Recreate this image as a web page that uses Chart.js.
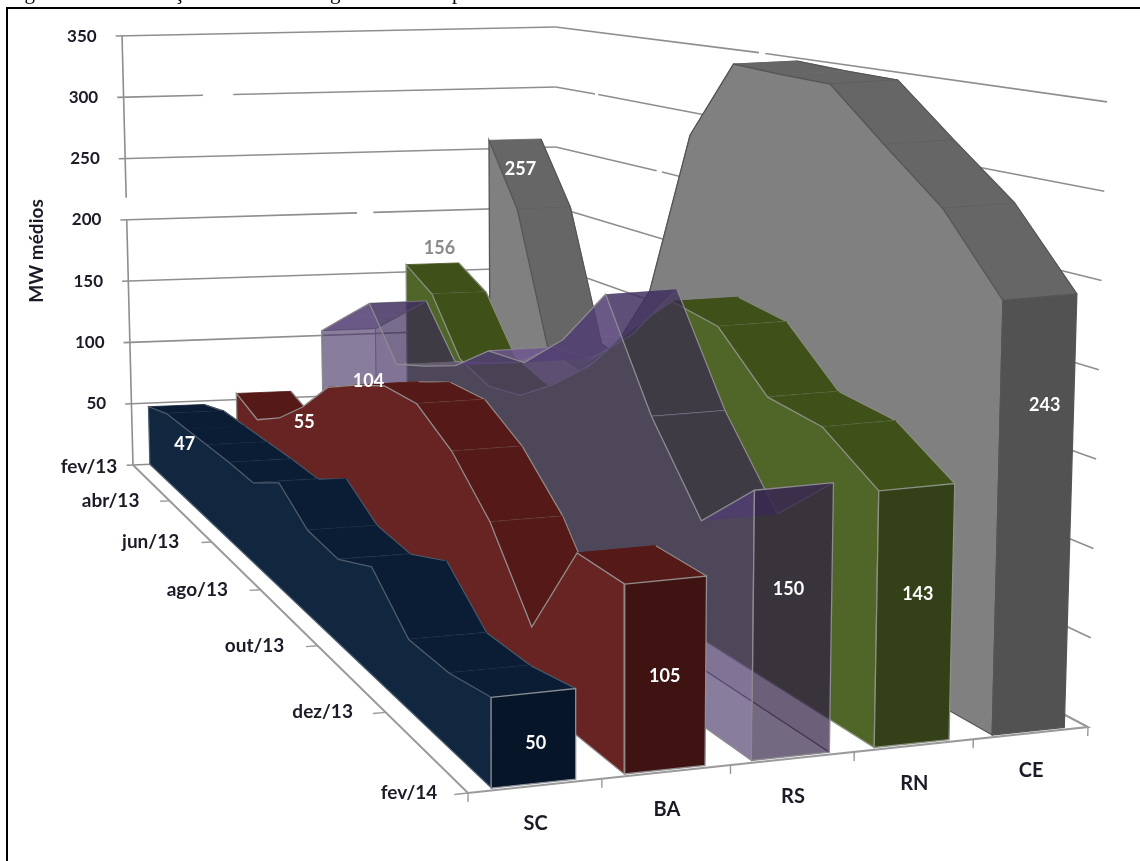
<!DOCTYPE html>
<html>
<head>
<meta charset="utf-8">
<title>MW médios</title>
<script src="https://cdn.jsdelivr.net/npm/chart.js@4"></script>
<style>
    html, body { margin: 0; padding: 0; background: #fff; }
    canvas { display: block; }
</style>
</head>
<body>
<canvas id="areaChart" width="1140" height="861"></canvas>
<script>
// values by month, fev/13 to fev/14
var months = ["fev/13", "mar/13", "abr/13", "mai/13", "jun/13", "jul/13", "ago/13", "set/13", "out/13", "nov/13", "dez/13", "jan/14", "fev/14"];
var states = ["SC", "BA", "RS", "RN", "CE"];
var valuesSC = [47, 54, 55, 56, 57, 57, 72, 56, 54, 67, 42, 43, 50];
var valuesBA = [55, 46, 60, 81, 108, 122, 134, 135, 118, 89, 43, 105, 105];
var valuesRS = [104, 125, 146, 110, 120, 132, 154, 158, 185, 225, 163, 117, 150];
var valuesRN = [156, 141, 100, 90, 95, 115, 140, 175, 205, 200, 169, 165, 143];
var valuesCE = [257, 207, 107, 100, 125, 178, 296, 350, 348, 347, 316, 286, 243];
var yTicks = [0, 50, 100, 150, 200, 250, 300, 350];

// months where the top band shows a cross line
var breaksSC = [1, 3, 4, 5, 7, 8, 10, 11];
var breaksBA = [1, 7, 8, 9];
var breaksRS = [2, 6, 10];
var breaksRN = [1, 9, 10, 11];
var breaksCE = [1, 9, 10, 11];

// floor of the 3d view in canvas pixels, pixels per 50 at its corners,
// and the vanishing point of the verticals
var floorQuad = [[133, 465], [556, 447], [1088, 727], [468, 793]];
var cornerScale = [61.3, 60, 89.3, 91];
var GROUPS = 5, STEPS = 12, GROUP_WARP = 0.026;
var VANISH_X = 569, LEAN = 5.86e-5;
var BAND_LEFT = 0.19, BAND_RIGHT = 0.82, FRONT = 11.95;

function quadMap(q) {
    var dx1 = q[1][0] - q[2][0], dx2 = q[3][0] - q[2][0], sx = q[0][0] - q[1][0] + q[2][0] - q[3][0];
    var dy1 = q[1][1] - q[2][1], dy2 = q[3][1] - q[2][1], sy = q[0][1] - q[1][1] + q[2][1] - q[3][1];
    var den = dx1 * dy2 - dx2 * dy1;
    var g = (sx * dy2 - dx2 * sy) / den;
    var h = (dx1 * sy - sx * dy1) / den;
    return function (s, t) {
        var w = g * s + h * t + 1;
        return [
            ((q[1][0] - q[0][0] + g * q[1][0]) * s + (q[3][0] - q[0][0] + h * q[3][0]) * t + q[0][0]) / w,
            ((q[1][1] - q[0][1] + g * q[1][1]) * s + (q[3][1] - q[0][1] + h * q[3][1]) * t + q[0][1]) / w
        ];
    };
}

var floorMap = quadMap(floorQuad);

// distance grows linearly in depth, so the scale is read as 1/depth
function unitHeight(s, t) {
    var back = (1 - s) / cornerScale[0] + s / cornerScale[1];
    var front = (1 - s) / cornerScale[3] + s / cornerScale[2];
    return 1 / ((1 - t) * back + t * front) / 50;
}

function project(group, month, value) {
    var s = group / GROUPS;
    s = s - GROUP_WARP * s * (1 - s);
    var t = month / STEPS;
    var a = floorMap(s, t);
    var height = unitHeight(s, t) * value;
    return { x: a[0] + (a[0] - VANISH_X) * LEAN * height, y: a[1] - height };
}

var datasets = [];

function addShape(points, fillColor, strokeColor, strokeWidth) {
    var pts = points.slice();
    if (strokeColor) pts.push(points[0]);
    datasets.push({
        data: pts,
        fill: fillColor ? 'shape' : false,
        backgroundColor: fillColor || 'transparent',
        borderColor: strokeColor || 'transparent',
        borderWidth: strokeColor ? (strokeWidth || 1.3) : 0,
        pointRadius: 0,
        tension: 0,
        order: -datasets.length
    });
}

function addLine(points, color, width) {
    datasets.push({
        data: points,
        fill: false,
        borderColor: color,
        borderWidth: width || 1.3,
        pointRadius: 0,
        tension: 0,
        order: -datasets.length
    });
}

// gridlines on the two walls, with the breaks they have in print
var gapsBack = { 300: [0.88, 1.22], 200: [2.62, 2.81] };
var gapsSide = { 350: [5.75, 5.9], 300: [1.3, 1.4], 250: [3.15, 3.3] };
var gridColor = '#8e8e8e';

function drawWalls() {
    yTicks.forEach(function (v) {
        var gap = gapsBack[v];
        if (gap) {
            addLine([project(-0.07, 0, v), project(gap[0], 0, v)], gridColor, 1.6);
            addLine([project(gap[1], 0, v), project(GROUPS, 0, v)], gridColor, 1.6);
        } else {
            addLine([project(-0.07, 0, v), project(GROUPS, 0, v)], gridColor, 1.6);
        }
        gap = gapsSide[v];
        if (gap) {
            addLine([project(GROUPS, 0, v), project(GROUPS, gap[0], v)], gridColor, 1.6);
            addLine([project(GROUPS, gap[1], v), project(GROUPS, STEPS, v)], gridColor, 1.6);
        } else {
            addLine([project(GROUPS, 0, v), project(GROUPS, STEPS, v)], gridColor, 1.6);
        }
    });
    addLine([project(0, 0, 350), project(0, 0, 218)], gridColor, 1.6);
    addLine([project(0, 0, 200), project(0, 0, 0)], gridColor, 1.6);

    // floor edges and their ticks
    addLine([project(0, 0, 0), project(0, STEPS, 0), project(GROUPS, STEPS, 0), project(GROUPS, 0, 0)], '#9a9a9a', 2);
    for (var j = 2; j <= STEPS; j += 2) {
        addLine([project(0, j, 0), project(-0.1, j, 0)], '#9a9a9a', 1.4);
    }
    for (var i = 0; i <= GROUPS; i++) {
        addLine([project(i, STEPS, 0), project(i, STEPS, -5)], '#9a9a9a', 1.4);
    }
}

function drawSeries(index, values, breaks, style) {
    var left = index + BAND_LEFT, right = index + BAND_RIGHT;

    function month(j) { return j === STEPS ? FRONT : j; }

    // faint far side, only seen through the translucent series
    if (style.far) {
        var far = [];
        values.forEach(function (v, j) { far.push(project(right, month(j), v)); });
        far.push(project(right, FRONT, 0), project(right, 0, 0));
        addShape(far, style.far, null);
        addLine([project(right, 0, 0), project(right, FRONT, 0)], '#6a6078', 1.2);
        addShape([project(left, 0, values[0]), project(right, 0, values[0]), project(right, 0, 0), project(left, 0, 0)], null, style.edge, 1);
    }

    // top band, back to front, each piece covers the lines behind it
    for (var j = 0; j < STEPS; j++) {
        var color = style.top;
        if (style.topRising && values[j + 1] > values[j]) color = style.topRising;
        addShape([
            project(left, month(j), values[j]),
            project(right, month(j), values[j]),
            project(right, month(j + 1), values[j + 1]),
            project(left, month(j + 1), values[j + 1])
        ], color, style.far ? null : color, 0.8);
        addLine([project(right, month(j), values[j]), project(right, month(j + 1), values[j + 1])], style.edge, 1.2);
        if (breaks.indexOf(j + 1) >= 0) {
            addLine([project(left, j + 1, values[j + 1]), project(right, j + 1, values[j + 1])], style.edge, 1.2);
        }
    }

    // side wall
    var side = [project(left, 0, 0)];
    values.forEach(function (v, j) { side.push(project(left, month(j), v)); });
    side.push(project(left, FRONT, 0));
    addShape(side, style.side, style.edge, 1.3);

    // front wall
    var last = values[STEPS];
    addShape([
        project(left, FRONT, last), project(right, FRONT, last),
        project(right, FRONT, 0), project(left, FRONT, 0)
    ], style.front, style.frontEdge || style.edge, 1.3);
}

drawWalls();
drawSeries(4, valuesCE, breaksCE, { side: '#808080', top: '#666666', front: '#525252', edge: '#555555' });
drawSeries(3, valuesRN, breaksRN, { side: '#506528', top: '#3f5019', front: '#344018', edge: '#8b9084' });
drawSeries(2, valuesRS, breaksRS, {
    side: 'rgba(72,55,105,0.65)', top: 'rgba(45,30,75,0.6)', topRising: 'rgba(110,85,145,0.6)',
    front: 'rgba(40,25,60,0.65)', far: 'rgba(130,110,150,0.2)', edge: '#8d8a90'
});
drawSeries(1, valuesBA, breaksBA, { side: '#672423', top: '#551a18', front: '#3e1312', edge: '#928c8c' });
drawSeries(0, valuesSC, breaksSC, { side: '#11263f', top: '#0a1d35', front: '#071529', edge: '#4d5a6a', frontEdge: '#8a8f98' });

// value labels: text, group position, month position, height
var valueLabels = [
    ["47", 0.59, 0, 15, '#fff'],
    ["55", 1.97, 0, 29, '#fff'],
    ["104", 2.73, 0, 61, '#fff'],
    ["156", 3.59, 0, 169, '#8a8a8a'],
    ["257", 4.57, 0, 232, '#fff'],
    ["50", 0.52, FRONT, 22, '#fff'],
    ["105", 1.5, FRONT, 52, '#fff'],
    ["150", 2.47, FRONT, 93, '#fff'],
    ["143", 3.53, FRONT, 83, '#fff'],
    ["243", 4.57, FRONT, 182, '#fff']
];
var monthLabelGaps = { 0: 44, 2: 59, 4: 61, 6: 63, 8: 63, 10: 63, 12: 59 };

var textPlugin = {
    id: 'chartText',
    afterDraw: function (chart) {
        var ctx = chart.ctx, sx = chart.scales.x, sy = chart.scales.y;
        var font = "Lato, 'Open Sans', sans-serif";

        function at(p) { return { x: sx.getPixelForValue(p.x), y: sy.getPixelForValue(p.y) }; }

        ctx.save();

        // frame and the line of caption cut by the top edge
        ctx.fillStyle = '#000';
        ctx.fillRect(6, 7, 1134, 2);
        ctx.fillRect(6, 7, 2, 854);
        ctx.font = "21px 'Liberation Serif'";
        ctx.textAlign = 'left';
        ctx.textBaseline = 'alphabetic';
        ctx.fillText("Figura", 7, -1);
        ctx.fillText("Evolução", 124, -1);
        ctx.fillText("gerada", 330, -1);
        ctx.fillText("por", 452, -1);

        ctx.fillStyle = '#1c1c28';
        ctx.font = "bold 17px " + font;
        ctx.textBaseline = 'middle';

        ctx.textAlign = 'right';
        yTicks.forEach(function (v) {
            if (v === 0) return;
            var p = at(project(-0.07, 0, v));
            ctx.fillText(String(v), p.x - 19, p.y);
        });

        ctx.textAlign = 'center';
        ctx.font = "bold 19px " + font;
        months.forEach(function (m, j) {
            if (j % 2) return;
            var p = at(project(0, j, 0));
            ctx.fillText(m, p.x - monthLabelGaps[j], p.y + (j === 0 ? 2 : 0));
        });

        ctx.font = "bold 20px " + font;
        states.forEach(function (s, i) {
            var p = at(project(i + 0.5, STEPS, 0));
            ctx.fillText(s, p.x, p.y + 38);
        });

        ctx.font = "bold 18px " + font;
        valueLabels.forEach(function (l) {
            var p = at(project(l[1], l[2], l[3]));
            ctx.fillStyle = l[4];
            ctx.fillText(l[0], p.x, p.y);
        });

        ctx.save();
        ctx.translate(37, 251);
        ctx.rotate(-Math.PI / 2);
        ctx.fillStyle = '#1c1c28';
        ctx.font = "bold 19px " + font;
        ctx.fillText("MW médios", 0, 0);
        ctx.restore();

        ctx.restore();
    }
};

new Chart(document.getElementById('areaChart'), {
    type: 'line',
    data: { datasets: datasets },
    options: {
        responsive: false,
        animation: false,
        layout: { padding: 0 },
        plugins: { legend: { display: false }, tooltip: { enabled: false } },
        scales: {
            x: { type: 'linear', display: false, min: 0, max: 1140 },
            y: { type: 'linear', display: false, min: 0, max: 861, reverse: true }
        }
    },
    plugins: [textPlugin]
});
</script>
</body>
</html>
